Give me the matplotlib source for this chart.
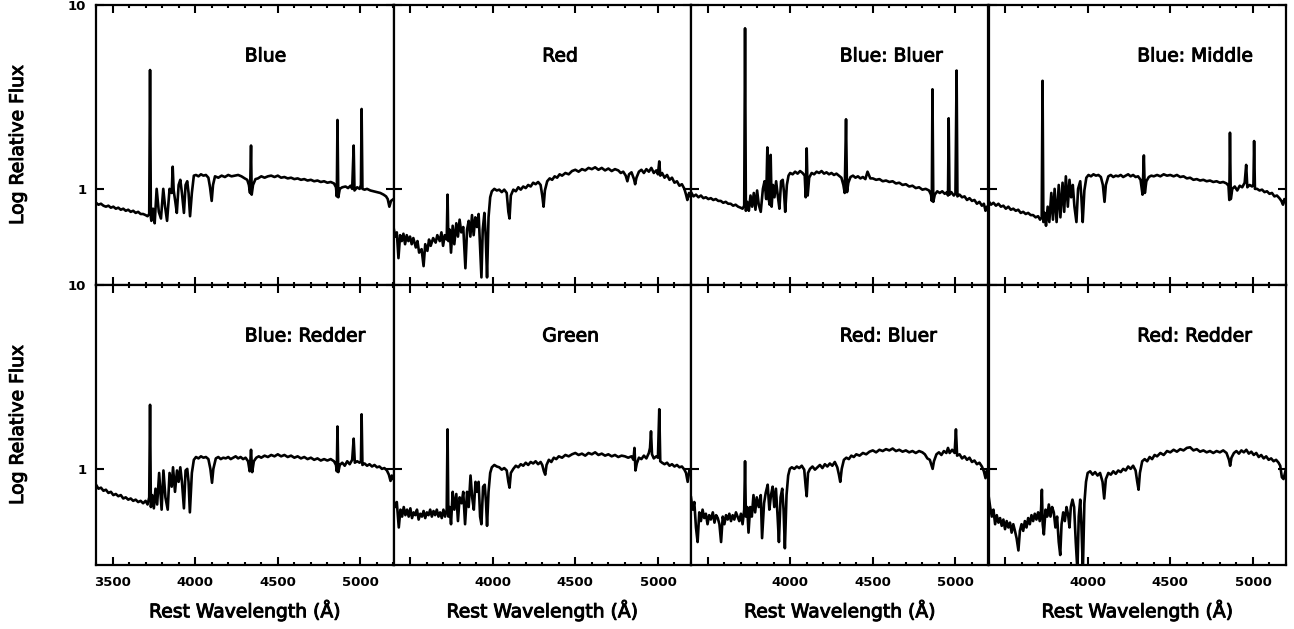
import numpy as np
import matplotlib
matplotlib.use("Agg")
import matplotlib.pyplot as plt
import matplotlib.patheffects as pe
from matplotlib.ticker import FixedLocator, FixedFormatter, MultipleLocator, NullLocator

# ==================== spectra (rest wavelength [A], relative flux) ====================
blue = np.array([
    (3400, .84), (3415, .82), (3430, .83), (3445, .81), (3460, .80), (3475, .81), (3490, .79), (3505, .80),
    (3520, .78), (3535, .79), (3550, .77), (3565, .78), (3580, .76), (3595, .77), (3610, .75), (3625, .76),
    (3640, .74), (3655, .75), (3670, .73), (3685, .73), (3700, .72), (3712, .71), (3722, .73), (3727, 4.43),
    (3732, .70), (3735, .67), (3745, .78), (3755, .65), (3767, 1.00), (3780, .75), (3793, .69), (3807, 1.00),
    (3818, .80), (3830, .67), (3845, 1.00), (3858, .95), (3864, 1.32), (3870, .98), (3880, .85), (3889, .74),
    (3900, 1.05), (3910, 1.12), (3920, .95), (3932, .74), (3942, 1.05), (3952, 1.10), (3960, .95), (3969, .71),
    (3980, .95), (3992, 1.18), (4005, 1.19), (4020, 1.17), (4035, 1.20), (4050, 1.18), (4065, 1.19), (4080, 1.15),
    (4090, 1.02), (4100, .86), (4108, 1.05), (4120, 1.17), (4140, 1.15), (4160, 1.18), (4180, 1.16), (4200, 1.19),
    (4220, 1.17), (4240, 1.18), (4260, 1.19), (4280, 1.17), (4300, 1.14), (4315, 1.12), (4325, 1.05), (4332, .95),
    (4338, 1.72), (4342, .93), (4350, 1.05), (4365, 1.13), (4380, 1.14), (4400, 1.17), (4420, 1.15), (4440, 1.17),
    (4460, 1.18), (4480, 1.16), (4500, 1.18), (4520, 1.15), (4540, 1.16), (4560, 1.14), (4580, 1.15), (4600, 1.13),
    (4620, 1.14), (4640, 1.12), (4660, 1.13), (4680, 1.11), (4700, 1.12), (4720, 1.10), (4740, 1.11), (4760, 1.09),
    (4780, 1.10), (4800, 1.08), (4820, 1.09), (4840, 1.07), (4852, 1.02), (4857, .91), (4861, 2.37), (4866, .90),
    (4875, 1.00), (4890, 1.02), (4910, 1.03), (4925, 1.01), (4940, 1.04), (4950, 1.00), (4959, 1.72), (4964, .98),
    (4980, 1.02), (4995, 1.00), (5003, 1.05), (5007, 2.72), (5012, 1.00), (5025, .99), (5040, 1.00), (5060, .98),
    (5080, .97), (5100, .96), (5120, .95), (5140, .93), (5155, .91), (5165, .88), (5175, .80), (5185, .86),
    (5200, .88),
])

red = np.array([
    (3400, .62), (3410, .55), (3420, .58), (3430, .42), (3440, .56), (3450, .52), (3460, .57), (3470, .50),
    (3480, .56), (3490, .52), (3500, .55), (3510, .50), (3520, .54), (3535, .48), (3545, .52), (3555, .45),
    (3570, .47), (3582, .38), (3592, .50), (3605, .46), (3615, .53), (3625, .49), (3640, .54), (3655, .51),
    (3665, .56), (3680, .52), (3690, .58), (3700, .49), (3710, .56), (3722, .53), (3727, .93), (3732, .52),
    (3740, .60), (3748, .45), (3758, .63), (3768, .50), (3780, .65), (3790, .55), (3800, .68), (3810, .58),
    (3822, .62), (3835, .37), (3845, .60), (3855, .67), (3865, .55), (3875, .72), (3885, .56), (3895, .70),
    (3905, .62), (3915, .73), (3925, .45), (3932, .33), (3940, .60), (3950, .74), (3958, .55), (3966, .33),
    (3975, .70), (3985, .90), (3995, .97), (4010, 1.00), (4025, .98), (4040, .99), (4055, .96), (4070, .99),
    (4085, .95), (4095, .75), (4102, .69), (4110, .92), (4125, .99), (4140, .97), (4155, 1.02), (4170, .99),
    (4185, 1.03), (4200, 1.01), (4215, 1.05), (4230, 1.03), (4245, 1.08), (4260, 1.06), (4275, 1.09), (4290, 1.05),
    (4300, .92), (4308, .80), (4316, .98), (4330, 1.10), (4345, 1.14), (4360, 1.12), (4375, 1.17), (4390, 1.15),
    (4405, 1.20), (4420, 1.18), (4440, 1.22), (4460, 1.20), (4480, 1.25), (4500, 1.27), (4520, 1.24), (4540, 1.28),
    (4560, 1.26), (4580, 1.30), (4600, 1.28), (4620, 1.31), (4640, 1.27), (4660, 1.30), (4680, 1.26), (4700, 1.29),
    (4720, 1.25), (4740, 1.28), (4760, 1.26), (4775, 1.22), (4790, 1.24), (4805, 1.18), (4815, 1.10), (4825, 1.20),
    (4840, 1.23), (4855, 1.13), (4862, 1.06), (4870, 1.15), (4885, 1.24), (4900, 1.27), (4915, 1.22), (4930, 1.28),
    (4945, 1.24), (4960, 1.30), (4975, 1.22), (4990, 1.26), (5000, 1.20), (5008, 1.41), (5014, 1.18), (5025, 1.22),
    (5040, 1.15), (5055, 1.19), (5070, 1.12), (5085, 1.15), (5100, 1.08), (5115, 1.10), (5130, 1.04), (5145, 1.06),
    (5160, 1.00), (5170, .93), (5178, .87), (5188, .95), (5200, .90),
])

blue_bluer = np.array([
    (3400, .96), (3415, .91), (3430, .93), (3445, .90), (3460, .92), (3475, .89), (3490, .90), (3505, .88),
    (3520, .89), (3535, .87), (3550, .88), (3565, .86), (3580, .86), (3595, .84), (3610, .85), (3625, .83),
    (3640, .83), (3655, .81), (3670, .82), (3685, .80), (3700, .79), (3712, .78), (3722, .81), (3727, 7.47),
    (3732, .76), (3740, .85), (3750, .76), (3760, .92), (3770, .80), (3780, .95), (3790, .77), (3800, .98),
    (3810, .82), (3822, .75), (3835, 1.00), (3845, 1.10), (3855, .88), (3862, 1.68), (3868, .90), (3876, .82),
    (3882, 1.53), (3888, .80), (3896, 1.05), (3905, .90), (3915, 1.10), (3925, .92), (3935, .78), (3945, 1.10),
    (3955, 1.12), (3963, .95), (3970, .75), (3980, 1.05), (3990, 1.18), (4000, 1.22), (4015, 1.20), (4030, 1.24),
    (4045, 1.21), (4060, 1.25), (4075, 1.22), (4088, 1.18), (4094, .90), (4100, 1.66), (4106, .92), (4115, 1.15),
    (4130, 1.22), (4145, 1.20), (4160, 1.24), (4175, 1.22), (4190, 1.25), (4205, 1.21), (4220, 1.23), (4235, 1.20),
    (4250, 1.22), (4265, 1.19), (4280, 1.21), (4295, 1.18), (4310, 1.15), (4322, 1.05), (4330, .95), (4338, 2.39),
    (4344, .96), (4352, 1.08), (4365, 1.16), (4380, 1.18), (4395, 1.15), (4410, 1.17), (4425, 1.14), (4440, 1.16),
    (4455, 1.13), (4468, 1.24), (4485, 1.14), (4500, 1.14), (4520, 1.12), (4540, 1.13), (4560, 1.10), (4580, 1.11),
    (4600, 1.09), (4620, 1.10), (4640, 1.07), (4660, 1.08), (4680, 1.05), (4700, 1.06), (4720, 1.03), (4740, 1.04),
    (4760, 1.01), (4780, 1.02), (4800, .99), (4820, 1.00), (4840, .98), (4852, .93), (4857, .86), (4861, 3.48),
    (4866, .85), (4875, .93), (4890, .97), (4905, .95), (4920, .97), (4935, .94), (4950, .96), (4955, .92),
    (4959, 2.42), (4964, .93), (4975, .96), (4990, .92), (5000, .94), (5007, 4.40), (5012, .91), (5025, .93),
    (5040, .90), (5055, .91), (5070, .87), (5085, .89), (5100, .86), (5115, .87), (5130, .83), (5145, .85),
    (5160, .81), (5172, .83), (5182, .76), (5190, .80), (5200, .78),
])

blue_middle = np.array([
    (3400, .86), (3415, .82), (3430, .84), (3445, .81), (3460, .83), (3475, .80), (3490, .81), (3505, .78),
    (3520, .80), (3535, .77), (3550, .78), (3565, .76), (3580, .77), (3595, .74), (3610, .75), (3625, .73),
    (3640, .74), (3655, .72), (3670, .72), (3685, .70), (3700, .71), (3712, .68), (3722, .70), (3727, 3.87),
    (3732, .66), (3740, .74), (3748, .63), (3758, .80), (3768, .66), (3780, .95), (3790, .68), (3800, 1.00),
    (3812, .66), (3825, 1.05), (3835, .70), (3848, 1.08), (3858, .75), (3868, 1.17), (3880, .80), (3890, 1.12),
    (3900, .90), (3910, 1.05), (3920, .80), (3932, .66), (3942, 1.00), (3955, 1.10), (3962, .90), (3970, .66),
    (3980, .98), (3992, 1.15), (4005, 1.19), (4020, 1.17), (4035, 1.20), (4050, 1.18), (4065, 1.19), (4080, 1.16),
    (4092, 1.05), (4102, .85), (4110, 1.05), (4125, 1.17), (4140, 1.19), (4155, 1.16), (4170, 1.18), (4185, 1.17),
    (4200, 1.19), (4215, 1.16), (4230, 1.18), (4245, 1.20), (4260, 1.17), (4275, 1.19), (4290, 1.16), (4305, 1.17),
    (4320, 1.12), (4332, .93), (4340, 1.52), (4346, .95), (4355, 1.10), (4370, 1.16), (4385, 1.18), (4400, 1.17),
    (4420, 1.19), (4440, 1.17), (4460, 1.20), (4480, 1.18), (4500, 1.19), (4520, 1.17), (4540, 1.19), (4560, 1.16),
    (4580, 1.17), (4600, 1.14), (4620, 1.15), (4640, 1.12), (4660, 1.13), (4680, 1.11), (4700, 1.12), (4720, 1.10),
    (4740, 1.11), (4760, 1.09), (4780, 1.10), (4800, 1.08), (4820, 1.09), (4840, 1.07), (4852, 1.04), (4857, .87),
    (4861, 2.02), (4866, .88), (4875, 1.00), (4890, 1.03), (4905, .98), (4920, 1.04), (4935, 1.02), (4950, 1.08),
    (4959, 1.35), (4966, 1.02), (4980, 1.05), (4995, 1.03), (5003, 1.06), (5007, 1.82), (5012, 1.00), (5025, 1.00),
    (5040, .98), (5055, .99), (5070, .96), (5085, .97), (5100, .94), (5115, .95), (5130, .91), (5145, .92),
    (5160, .89), (5172, .86), (5182, .82), (5190, .88), (5200, .84),
])

blue_redder = np.array([
    (3400, .82), (3415, .78), (3430, .79), (3445, .76), (3460, .77), (3475, .74), (3490, .75), (3505, .72),
    (3520, .73), (3535, .71), (3550, .72), (3565, .69), (3580, .70), (3595, .68), (3610, .69), (3625, .67),
    (3640, .68), (3655, .66), (3670, .67), (3685, .65), (3700, .67), (3712, .64), (3722, .70), (3727, 2.23),
    (3732, .62), (3740, .72), (3750, .61), (3760, .78), (3770, .64), (3782, .95), (3797, .60), (3808, .98),
    (3820, .70), (3834, .60), (3845, .95), (3858, .80), (3866, 1.02), (3878, .75), (3890, .98), (3900, .85),
    (3910, 1.02), (3920, .85), (3932, .61), (3942, .98), (3952, 1.00), (3960, .85), (3968, .58), (3980, .95),
    (3992, 1.12), (4005, 1.16), (4020, 1.14), (4035, 1.17), (4050, 1.15), (4065, 1.16), (4080, 1.13), (4092, 1.00),
    (4102, .84), (4110, 1.00), (4125, 1.14), (4140, 1.16), (4155, 1.13), (4170, 1.15), (4185, 1.14), (4200, 1.16),
    (4215, 1.13), (4230, 1.15), (4245, 1.17), (4260, 1.14), (4275, 1.16), (4290, 1.13), (4305, 1.15), (4320, 1.10),
    (4330, .97), (4338, 1.27), (4345, .96), (4355, 1.10), (4370, 1.15), (4385, 1.17), (4400, 1.15), (4420, 1.18),
    (4440, 1.16), (4460, 1.19), (4480, 1.17), (4500, 1.20), (4520, 1.17), (4540, 1.19), (4560, 1.16), (4580, 1.18),
    (4600, 1.15), (4620, 1.17), (4640, 1.14), (4660, 1.16), (4680, 1.13), (4700, 1.15), (4720, 1.12), (4740, 1.14),
    (4760, 1.11), (4780, 1.13), (4800, 1.11), (4820, 1.13), (4840, 1.10), (4852, 1.05), (4857, .97), (4861, 1.70),
    (4866, .96), (4875, 1.05), (4890, 1.08), (4905, 1.04), (4920, 1.10), (4935, 1.06), (4950, 1.12), (4959, 1.46),
    (4966, 1.08), (4980, 1.10), (4995, 1.08), (5003, 1.10), (5007, 1.98), (5012, 1.05), (5025, 1.07), (5040, 1.04),
    (5055, 1.06), (5070, 1.03), (5085, 1.05), (5100, 1.02), (5115, 1.03), (5130, 1.00), (5145, 1.01), (5160, .98),
    (5172, .93), (5182, .86), (5190, .92), (5200, .88),
])

green = np.array([
    (3400, .68), (3410, .62), (3420, .66), (3432, .48), (3442, .60), (3452, .55), (3462, .62), (3472, .56),
    (3482, .60), (3492, .55), (3502, .61), (3512, .54), (3522, .58), (3532, .56), (3542, .60), (3552, .53),
    (3562, .57), (3572, .55), (3582, .59), (3592, .54), (3602, .58), (3612, .56), (3622, .60), (3632, .55),
    (3642, .59), (3652, .56), (3662, .60), (3672, .55), (3682, .58), (3692, .54), (3702, .60), (3712, .55),
    (3722, .60), (3727, 1.64), (3732, .55), (3740, .62), (3748, .50), (3758, .75), (3768, .60), (3780, .73),
    (3790, .52), (3800, .70), (3812, .65), (3822, .75), (3833, .50), (3845, .75), (3855, .62), (3866, .92),
    (3876, .70), (3886, .60), (3896, .85), (3906, .75), (3915, .85), (3924, .55), (3932, .50), (3942, .80),
    (3952, .82), (3960, .65), (3966, .49), (3975, .75), (3985, .95), (3995, 1.02), (4010, 1.05), (4025, 1.03),
    (4040, 1.02), (4055, .99), (4070, 1.01), (4085, .98), (4095, .85), (4102, .79), (4110, .95), (4125, 1.00),
    (4140, 1.04), (4155, 1.02), (4170, 1.06), (4185, 1.04), (4200, 1.08), (4215, 1.05), (4230, 1.09), (4245, 1.07),
    (4260, 1.10), (4275, 1.06), (4290, 1.09), (4300, 1.05), (4310, .97), (4318, .93), (4326, 1.05), (4340, 1.12),
    (4355, 1.09), (4370, 1.15), (4385, 1.13), (4400, 1.17), (4420, 1.15), (4440, 1.19), (4460, 1.17), (4480, 1.20),
    (4500, 1.22), (4520, 1.19), (4540, 1.21), (4560, 1.18), (4580, 1.22), (4600, 1.20), (4620, 1.23), (4640, 1.19),
    (4660, 1.21), (4680, 1.18), (4700, 1.20), (4720, 1.17), (4740, 1.19), (4760, 1.16), (4780, 1.18), (4800, 1.17),
    (4820, 1.15), (4840, 1.17), (4852, 1.12), (4858, 1.30), (4864, .98), (4872, 1.07), (4885, 1.15), (4900, 1.13),
    (4915, 1.18), (4930, 1.14), (4945, 1.22), (4952, 1.30), (4958, 1.60), (4964, 1.20), (4975, 1.14), (4990, 1.17),
    (5000, 1.15), (5008, 2.11), (5014, 1.10), (5025, 1.08), (5040, 1.06), (5055, 1.08), (5070, 1.04), (5085, 1.06),
    (5100, 1.03), (5115, 1.05), (5130, 1.02), (5145, 1.03), (5160, .99), (5170, .95), (5180, .85), (5190, .98),
    (5200, .94),
])

red_bluer = np.array([
    (3400, .70), (3410, .60), (3420, .66), (3430, .48), (3440, .40), (3450, .58), (3460, .52), (3470, .60),
    (3480, .54), (3490, .57), (3500, .50), (3510, .56), (3520, .53), (3532, .58), (3542, .51), (3552, .56),
    (3562, .54), (3572, .50), (3582, .40), (3592, .55), (3602, .50), (3612, .56), (3622, .53), (3632, .57),
    (3642, .52), (3652, .56), (3662, .53), (3672, .58), (3682, .55), (3692, .52), (3702, .57), (3712, .50),
    (3722, .60), (3727, 1.10), (3732, .55), (3740, .62), (3748, .45), (3758, .62), (3768, .55), (3778, .72),
    (3788, .58), (3798, .70), (3810, .62), (3822, .72), (3830, .42), (3842, .65), (3852, .74), (3864, .82),
    (3874, .60), (3884, .72), (3894, .80), (3904, .62), (3914, .78), (3924, .55), (3932, .40), (3942, .70),
    (3952, .78), (3960, .60), (3968, .37), (3978, .72), (3988, .92), (3998, 1.00), (4010, 1.02), (4025, 1.00),
    (4040, 1.03), (4055, 1.01), (4070, 1.04), (4085, .99), (4094, .80), (4100, .71), (4108, .95), (4120, 1.00),
    (4135, 1.03), (4150, .99), (4165, 1.02), (4180, 1.05), (4195, 1.01), (4210, 1.06), (4225, 1.03), (4240, 1.07),
    (4255, 1.04), (4270, 1.09), (4285, 1.02), (4295, .93), (4303, .85), (4312, 1.00), (4325, 1.12), (4340, 1.15),
    (4355, 1.13), (4370, 1.18), (4385, 1.16), (4400, 1.20), (4420, 1.18), (4440, 1.22), (4460, 1.20), (4480, 1.24),
    (4500, 1.26), (4520, 1.23), (4540, 1.27), (4560, 1.25), (4580, 1.28), (4600, 1.26), (4620, 1.29), (4640, 1.25),
    (4660, 1.27), (4680, 1.24), (4700, 1.26), (4720, 1.23), (4740, 1.25), (4760, 1.22), (4780, 1.25), (4800, 1.23),
    (4815, 1.20), (4830, 1.14), (4845, 1.12), (4862, 1.00), (4870, 1.10), (4885, 1.20), (4900, 1.23), (4915, 1.19),
    (4930, 1.25), (4945, 1.22), (4955, 1.30), (4965, 1.22), (4980, 1.27), (4995, 1.22), (5003, 1.64), (5010, 1.18),
    (5025, 1.20), (5040, 1.14), (5055, 1.17), (5070, 1.12), (5085, 1.15), (5100, 1.09), (5115, 1.11), (5130, 1.06),
    (5145, 1.08), (5160, 1.03), (5172, .97), (5182, .89), (5190, .98), (5200, .95),
])

red_redder = np.array([
    (3400, .72), (3410, .62), (3420, .55), (3430, .60), (3440, .50), (3450, .56), (3460, .51), (3470, .54),
    (3480, .49), (3490, .53), (3500, .47), (3510, .52), (3520, .48), (3530, .51), (3540, .45), (3550, .50),
    (3560, .46), (3570, .42), (3581, .36), (3590, .46), (3600, .50), (3610, .46), (3620, .52), (3630, .48),
    (3640, .54), (3650, .50), (3660, .56), (3670, .52), (3680, .57), (3690, .53), (3700, .58), (3710, .52),
    (3718, .60), (3723, .77), (3728, .50), (3735, .44), (3745, .60), (3755, .55), (3765, .64), (3775, .55),
    (3785, .62), (3795, .58), (3805, .48), (3815, .55), (3825, .40), (3834, .34), (3842, .50), (3852, .58),
    (3862, .52), (3872, .62), (3882, .56), (3890, .48), (3898, .62), (3908, .68), (3918, .62), (3928, .40),
    (3938, .28), (3946, .55), (3955, .68), (3962, .50), (3971, .28), (3980, .65), (3990, .85), (4000, .95),
    (4015, .97), (4030, .93), (4045, .96), (4060, .92), (4075, .95), (4090, .85), (4100, .69), (4110, .88),
    (4125, .95), (4140, .93), (4155, .97), (4170, .94), (4185, .98), (4200, .96), (4215, 1.00), (4230, .98),
    (4245, 1.03), (4260, 1.00), (4275, 1.04), (4290, .98), (4300, .85), (4308, .77), (4316, .95), (4330, 1.10),
    (4345, 1.13), (4360, 1.10), (4375, 1.16), (4390, 1.13), (4405, 1.19), (4420, 1.17), (4440, 1.22), (4460, 1.19),
    (4480, 1.25), (4500, 1.23), (4520, 1.27), (4540, 1.24), (4560, 1.28), (4580, 1.26), (4600, 1.30), (4620, 1.31),
    (4640, 1.26), (4660, 1.28), (4680, 1.24), (4700, 1.26), (4720, 1.23), (4740, 1.25), (4760, 1.22), (4780, 1.25),
    (4800, 1.23), (4820, 1.26), (4840, 1.22), (4855, 1.12), (4862, 1.04), (4870, 1.15), (4885, 1.22), (4900, 1.25),
    (4915, 1.21), (4930, 1.26), (4945, 1.23), (4960, 1.27), (4975, 1.21), (4990, 1.24), (5005, 1.19), (5020, 1.22),
    (5035, 1.16), (5050, 1.19), (5065, 1.14), (5080, 1.17), (5095, 1.12), (5110, 1.14), (5125, 1.10), (5140, 1.12),
    (5155, 1.08), (5165, 1.04), (5175, .90), (5185, .88), (5195, .96), (5200, 1.00),
])

panel_names = ["Blue", "Red", "Blue: Bluer", "Blue: Middle",
               "Blue: Redder", "Green", "Red: Bluer", "Red: Redder"]
spectra = [blue, red, blue_bluer, blue_middle, blue_redder, green, red_bluer, red_redder]

xticks = [3500, 4000, 4500, 5000]
xticklabels_first = ["3500", "4000", "4500", "5000"]
xticklabels_other = ["", "4000", "4500", "5000"]
yticks = [1, 10]
yticklabels = ["1", "10"]
xlim = (3400, 5200)
ylim = (0.3, 10)

# ==================== layout ====================
W, H = 1294, 629
fig = plt.figure(figsize=(W / 100, H / 100), dpi=100)

left0, pw = 96, 297.5
top0, ph = 5, 280
heavy = [pe.withStroke(linewidth=0.7, foreground="black")]

for i, (name, spec) in enumerate(zip(panel_names, spectra)):
    row, col = divmod(i, 4)
    x0 = (left0 + col * pw) / W
    y0 = 1 - (top0 + (row + 1) * ph) / H
    ax = fig.add_axes([x0, y0, pw / W, ph / H])

    ax.plot(spec[:, 0], spec[:, 1], color="black", lw=1.9)
    ax.set_yscale("log")
    ax.set_xlim(*xlim)
    ax.set_ylim(*ylim)

    for s in ax.spines.values():
        s.set_linewidth(1.6)

    ax.xaxis.set_major_locator(FixedLocator(xticks))
    ax.xaxis.set_minor_locator(MultipleLocator(100))
    ax.yaxis.set_major_locator(FixedLocator(yticks))
    ax.yaxis.set_minor_locator(NullLocator())
    ax.tick_params(which="both", direction="in", top=True, right=True, width=1.5)
    ax.tick_params(which="major", length=5.5)
    ax.tick_params(which="minor", length=2.5)

    if row == 1:
        labels = xticklabels_first if col == 0 else xticklabels_other
        ax.xaxis.set_major_formatter(FixedFormatter(labels))
        ax.tick_params(axis="x", which="major", pad=8, labelsize=9.5)
        for t in ax.get_xticklabels():
            t.set_fontweight("bold")
        ax.set_xlabel("Rest Wavelength (\u00c5)", fontsize=13.5, labelpad=7,
                      path_effects=heavy)
    else:
        ax.set_xticklabels([])

    if col == 0:
        ax.yaxis.set_major_formatter(FixedFormatter(yticklabels))
        ax.tick_params(axis="y", which="major", pad=7, labelsize=9.5)
        for t in ax.get_yticklabels():
            t.set_fontweight("bold")
        ax.set_ylabel("Log Relative Flux", fontsize=13.5, path_effects=heavy)
        ax.yaxis.set_label_coords(-0.232, 0.5)
    else:
        ax.set_yticklabels([])

    ax.text(0.5, 0.818, name, transform=ax.transAxes, ha="left", va="center",
            fontsize=13.5, path_effects=heavy)

fig.savefig("out.png", dpi=100)
